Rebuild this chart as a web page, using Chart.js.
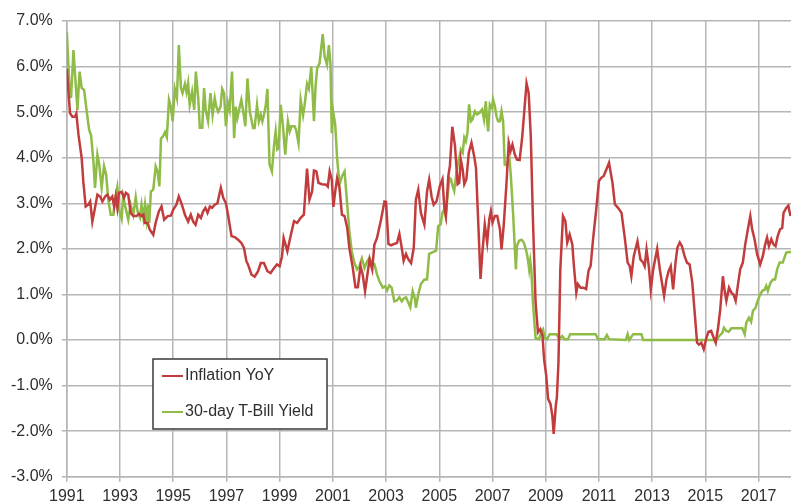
<!DOCTYPE html>
<html>
<head>
<meta charset="utf-8">
<script src="https://cdn.jsdelivr.net/npm/chart.js@4.4.1/dist/chart.umd.min.js"></script>
<style>
  html, body { margin: 0; padding: 0; background: #fff; overflow: hidden; }
  #mycanvas { display: block; }
</style>
</head>
<body>
<canvas id="mycanvas" width="791" height="512"></canvas>
<script>
// Inflation YoY (%)
const inflationYears = [
  1991.00, 1991.12, 1991.21, 1991.31, 1991.36, 1991.44, 1991.56, 1991.62, 1991.71, 1991.81, 1991.88, 1991.96,
  1992.06, 1992.15, 1992.25, 1992.34, 1992.44, 1992.52, 1992.62, 1992.71, 1992.78, 1992.84, 1992.90, 1992.96,
  1993.06, 1993.15, 1993.22, 1993.31, 1993.40, 1993.50, 1993.62, 1993.71, 1993.81, 1993.88, 1993.94,
  1994.04, 1994.12, 1994.25, 1994.35, 1994.46, 1994.56, 1994.66, 1994.79, 1994.91,
  1995.00, 1995.12, 1995.21, 1995.31, 1995.44, 1995.56, 1995.66, 1995.75, 1995.84, 1995.94,
  1996.04, 1996.12, 1996.21, 1996.29, 1996.38, 1996.46, 1996.56, 1996.66, 1996.79, 1996.88, 1996.98,
  1997.06, 1997.19, 1997.31, 1997.44, 1997.56, 1997.66, 1997.75, 1997.81, 1997.94,
  1998.06, 1998.19, 1998.29, 1998.41, 1998.54, 1998.66, 1998.79, 1998.90,
  1999.00, 1999.09, 1999.15, 1999.29, 1999.41, 1999.54, 1999.66, 1999.79, 1999.91,
  2000.03, 2000.12, 2000.22, 2000.29, 2000.38, 2000.46, 2000.59, 2000.75, 2000.81, 2000.88, 2000.96,
  2001.02, 2001.09, 2001.16, 2001.25, 2001.34, 2001.44, 2001.54, 2001.62, 2001.75, 2001.85, 2001.94,
  2002.04, 2002.12, 2002.21, 2002.29, 2002.38, 2002.48, 2002.56, 2002.66, 2002.81, 2002.94,
  2003.00, 2003.09, 2003.19, 2003.31, 2003.41, 2003.50, 2003.59, 2003.66, 2003.75, 2003.84, 2003.94,
  2004.04, 2004.12, 2004.21, 2004.31, 2004.44, 2004.54, 2004.62, 2004.71, 2004.79, 2004.90,
  2005.02, 2005.12, 2005.19, 2005.25, 2005.34, 2005.40, 2005.49, 2005.59, 2005.69, 2005.75, 2005.81, 2005.88, 2005.94,
  2006.02, 2006.11, 2006.21, 2006.31, 2006.38, 2006.46, 2006.55, 2006.62, 2006.71, 2006.80, 2006.88, 2006.94,
  2007.00, 2007.09, 2007.18, 2007.28, 2007.34, 2007.42, 2007.52, 2007.61, 2007.68, 2007.75, 2007.84, 2007.92,
  2008.02, 2008.12, 2008.21, 2008.28, 2008.36, 2008.44, 2008.52, 2008.62, 2008.71, 2008.80, 2008.88, 2008.94,
  2009.02, 2009.09, 2009.18, 2009.25, 2009.30, 2009.38, 2009.42, 2009.48, 2009.55, 2009.65, 2009.74, 2009.81, 2009.90,
  2010.00, 2010.06, 2010.15, 2010.21, 2010.31, 2010.42, 2010.52, 2010.61, 2010.69, 2010.78, 2010.90,
  2011.00, 2011.09, 2011.18, 2011.28, 2011.38, 2011.51, 2011.60, 2011.72, 2011.85, 2011.98,
  2012.08, 2012.16, 2012.22, 2012.31, 2012.45, 2012.56, 2012.66, 2012.72, 2012.79, 2012.88, 2012.95,
  2013.04, 2013.19, 2013.29, 2013.38, 2013.45, 2013.54, 2013.62, 2013.70, 2013.79, 2013.88, 2013.95,
  2014.04, 2014.12, 2014.22, 2014.31, 2014.41, 2014.51, 2014.60, 2014.69, 2014.76, 2014.85, 2014.94,
  2015.04, 2015.12, 2015.22, 2015.29, 2015.39, 2015.48, 2015.56, 2015.66, 2015.72, 2015.79, 2015.89, 2015.98,
  2016.06, 2016.14, 2016.22, 2016.31, 2016.41, 2016.50, 2016.60, 2016.69, 2016.76, 2016.85, 2016.95,
  2017.06, 2017.16, 2017.25, 2017.32, 2017.39, 2017.48, 2017.56, 2017.64, 2017.72, 2017.81, 2017.89, 2017.94,
  2018.04, 2018.12, 2018.20
];
const inflationValues = [
  5.95, 4.98, 4.90, 4.90, 4.97, 4.50, 3.99, 3.48, 2.93, 2.97, 3.04, 2.60,
  2.90, 3.19, 3.15, 3.04, 3.15, 3.19, 3.08, 3.15, 2.93, 3.15, 2.90, 3.23,
  3.25, 3.12, 3.23, 3.19, 2.79, 2.72, 2.72, 2.77, 2.72, 2.75, 2.57,
  2.57, 2.42, 2.31, 2.60, 2.82, 2.93, 2.64, 2.72, 2.73,
  2.86, 2.97, 3.15, 3.00, 2.75, 2.60, 2.75, 2.60, 2.53, 2.75,
  2.68, 2.82, 2.90, 2.79, 2.93, 2.90, 2.97, 3.00, 3.34, 3.12, 3.00,
  2.75, 2.28, 2.26, 2.20, 2.13, 2.02, 1.73, 1.66, 1.44,
  1.39, 1.51, 1.69, 1.69, 1.51, 1.47, 1.58, 1.66,
  1.62, 1.84, 2.24, 1.95, 2.28, 2.61, 2.57, 2.68, 2.75,
  3.76, 3.08, 3.26, 3.72, 3.70, 3.45, 3.42, 3.41, 3.37, 3.70, 3.52,
  2.92, 3.26, 3.55, 3.34, 2.75, 2.72, 2.46, 2.02, 1.58, 1.16, 1.16,
  1.62, 1.44, 1.07, 1.40, 1.77, 1.55, 2.09, 2.24, 2.64, 3.04,
  3.03, 2.11, 2.08, 2.11, 2.13, 2.33, 2.02, 1.74, 1.89, 1.77, 1.69,
  2.02, 3.08, 3.30, 2.79, 2.53, 3.26, 3.52, 3.15, 2.97, 3.05,
  3.38, 3.53, 2.91, 2.72, 3.60, 3.82, 4.68, 4.26, 3.42, 3.45, 3.96, 3.74, 3.42,
  3.53, 4.11, 4.33, 4.04, 3.78, 2.65, 1.34, 1.92, 2.54, 2.14, 2.65, 2.83,
  2.58, 2.72, 2.72, 2.43, 1.99, 2.50, 3.38, 4.33, 4.15, 4.29, 4.07, 3.96,
  3.95, 4.47, 5.13, 5.63, 5.42, 4.47, 2.65, 0.82, 0.17, 0.24, 0.09, -0.42,
  -0.78, -1.29, -1.40, -1.66, -2.06, -1.44, -1.26, -0.49, 1.55, 2.72, 2.61, 2.14, 2.32,
  2.10, 1.63, 1.04, 1.23, 1.15, 1.15, 1.12, 1.52, 1.63, 2.21, 2.87,
  3.49, 3.56, 3.60, 3.74, 3.89, 3.45, 2.98, 2.90, 2.79, 2.21,
  1.70, 1.62, 1.40, 1.84, 2.17, 1.77, 1.70, 1.62, 1.99, 1.59, 1.11,
  1.55, 2.00, 1.55, 1.22, 0.97, 1.33, 1.51, 1.62, 1.11, 1.70, 2.03,
  2.14, 2.06, 1.84, 1.70, 1.66, 1.26, 0.60, -0.06, -0.10, -0.06, -0.20,
  0.05, 0.18, 0.20, 0.09, -0.06, 0.27, 0.67, 1.40, 1.11, 0.86, 1.15, 1.04,
  1.00, 0.86, 1.19, 1.55, 1.70, 2.10, 2.43, 2.72, 2.43, 2.21, 1.88,
  1.66, 1.84, 2.10, 2.25, 2.06, 2.21, 2.10, 2.06, 2.28, 2.43, 2.46, 2.79,
  2.90, 2.95, 2.72
];

// 30-day T-Bill yield (%)
const billYears = [
  1991.00, 1991.09, 1991.16, 1991.25, 1991.34, 1991.40, 1991.48, 1991.56, 1991.65, 1991.75, 1991.84, 1991.91,
  1992.00, 1992.06, 1992.15, 1992.22, 1992.31, 1992.40, 1992.48, 1992.56, 1992.65, 1992.75, 1992.81, 1992.90, 1992.98,
  1993.06, 1993.12, 1993.21, 1993.31, 1993.40, 1993.50, 1993.59, 1993.66, 1993.75, 1993.81, 1993.88, 1993.94,
  1994.00, 1994.06, 1994.10, 1994.16, 1994.25, 1994.34, 1994.41, 1994.48, 1994.54, 1994.62, 1994.69, 1994.76, 1994.84, 1994.91, 1994.98,
  1995.06, 1995.14, 1995.21, 1995.29, 1995.35, 1995.44, 1995.50, 1995.56, 1995.62, 1995.71, 1995.79, 1995.85, 1995.94,
  1996.00, 1996.09, 1996.16, 1996.22, 1996.31, 1996.40, 1996.48, 1996.56, 1996.62, 1996.69, 1996.78, 1996.84, 1996.91, 1996.98,
  1997.06, 1997.12, 1997.21, 1997.29, 1997.35, 1997.41, 1997.50, 1997.56, 1997.65, 1997.71, 1997.79, 1997.88,
  1998.00, 1998.06, 1998.15, 1998.22, 1998.29, 1998.35, 1998.41, 1998.48, 1998.54, 1998.62, 1998.71, 1998.79, 1998.85, 1998.91, 1998.96,
  1999.04, 1999.12, 1999.21, 1999.31, 1999.38, 1999.44, 1999.56, 1999.62, 1999.71, 1999.79, 1999.88, 1999.94,
  2000.03, 2000.10, 2000.19, 2000.29, 2000.35, 2000.41, 2000.50, 2000.62, 2000.69, 2000.78, 2000.85, 2000.91, 2000.96,
  2001.00, 2001.09, 2001.16, 2001.25, 2001.34, 2001.44, 2001.54, 2001.62, 2001.71, 2001.81, 2001.91,
  2002.00, 2002.09, 2002.19, 2002.29, 2002.38, 2002.48, 2002.56, 2002.66, 2002.75, 2002.88, 2002.96,
  2003.04, 2003.12, 2003.21, 2003.31, 2003.41, 2003.50, 2003.59, 2003.66, 2003.75, 2003.84, 2003.91,
  2004.00, 2004.09, 2004.12, 2004.21, 2004.31, 2004.44, 2004.54, 2004.62, 2004.88, 2004.96,
  2005.05, 2005.12, 2005.19, 2005.24, 2005.30, 2005.38, 2005.44, 2005.50, 2005.56, 2005.62, 2005.69, 2005.75, 2005.81, 2005.88, 2005.94,
  2006.00, 2006.06, 2006.12, 2006.19, 2006.25, 2006.34, 2006.42, 2006.52, 2006.61, 2006.68, 2006.75, 2006.80, 2006.84, 2006.90, 2006.98,
  2007.02, 2007.09, 2007.15, 2007.21, 2007.28, 2007.34, 2007.40, 2007.46, 2007.55, 2007.62, 2007.69, 2007.78, 2007.88, 2007.92,
  2008.00, 2008.09, 2008.18, 2008.28, 2008.34, 2008.38, 2008.42, 2008.46, 2008.52, 2008.62, 2008.75, 2008.84, 2008.90, 2008.96,
  2009.05, 2009.15, 2009.40, 2009.52, 2009.62, 2009.71, 2009.84, 2009.92,
  2010.88, 2010.96, 2011.21, 2011.30, 2011.38,
  2012.01, 2012.08, 2012.14, 2012.29, 2012.60, 2012.66,
  2015.41, 2015.54, 2015.64, 2015.70, 2015.79, 2015.88, 2015.98,
  2016.39, 2016.48, 2016.54, 2016.64, 2016.72, 2016.79, 2016.89, 2016.95,
  2017.04, 2017.14, 2017.22, 2017.29, 2017.35, 2017.45, 2017.54, 2017.62, 2017.70, 2017.79, 2017.91,
  2018.04, 2018.16, 2018.22
];
const billValues = [
  6.77, 5.67, 5.31, 6.36, 5.56, 5.05, 5.89, 5.53, 5.49, 5.01, 4.61, 4.50,
  3.92, 3.34, 4.07, 3.85, 3.34, 3.82, 3.63, 3.08, 2.75, 2.75, 3.08, 3.36, 2.82,
  2.66, 3.15, 2.90, 2.64, 2.97, 2.75, 3.13, 2.82, 2.69, 2.97, 2.68, 2.97,
  2.64, 2.97, 2.57, 3.26, 3.30, 3.81, 3.70, 3.37, 4.42, 4.47, 4.56, 4.45, 5.27, 5.12, 4.80,
  5.51, 5.31, 6.47, 5.53, 5.42, 5.62, 5.44, 5.64, 5.16, 5.45, 5.05, 5.89, 5.31,
  4.66, 4.66, 5.53, 5.05, 4.80, 5.42, 4.94, 5.31, 5.12, 5.01, 5.12, 5.51, 5.42, 4.69,
  5.20, 5.05, 5.89, 4.43, 5.12, 4.87, 5.12, 5.27, 4.94, 4.69, 5.74, 5.01,
  4.65, 4.65, 5.16, 4.80, 4.94, 4.80, 4.94, 5.16, 5.51, 3.85, 3.70, 4.28, 4.58, 4.18, 4.21,
  5.16, 4.72, 4.07, 4.80, 4.58, 4.69, 4.69, 4.61, 4.32, 5.27, 4.93, 5.16,
  5.62, 5.51, 6.00, 4.80, 5.56, 5.96, 6.07, 6.71, 6.22, 6.04, 6.47, 6.07, 4.54,
  5.05, 4.72, 3.99, 3.41, 3.59, 3.70, 2.97, 2.39, 1.95, 1.69, 1.55,
  1.62, 1.79, 1.58, 1.73, 1.80, 1.67, 1.67, 1.44, 1.29, 1.15, 1.18,
  1.09, 1.20, 1.15, 0.85, 0.87, 0.94, 0.85, 0.91, 0.94, 0.82, 0.72,
  1.07, 0.89, 0.71, 1.00, 1.23, 1.33, 1.33, 1.89, 1.96, 2.50,
  2.54, 2.80, 2.87, 2.72, 3.09, 3.56, 3.53, 3.38, 3.27, 3.56, 3.85, 4.00, 4.18, 4.11, 4.44,
  4.36, 4.55, 5.17, 4.80, 4.84, 5.02, 4.95, 4.99, 5.06, 4.84, 5.24, 4.77, 4.58, 5.17, 5.09,
  5.28, 5.13, 4.91, 4.80, 4.80, 5.02, 4.80, 3.85, 3.83, 4.11, 3.60, 2.72, 1.55, 2.07,
  2.18, 2.20, 2.14, 1.93, 1.74, 1.55, 1.74, 1.55, 0.82, 0.04, 0.02, 0.17, 0.23, 0.04,
  0.02, 0.13, 0.13, 0.02, 0.09, 0.02, 0.02, 0.13,
  0.13, 0.02, 0.02, 0.11, 0.02,
  0.00, 0.13, 0.00, 0.13, 0.13, 0.00,
  0.00, 0.10, 0.16, 0.27, 0.20, 0.18, 0.26,
  0.26, 0.13, 0.38, 0.49, 0.40, 0.64, 0.71, 0.83,
  0.97, 1.08, 1.10, 1.19, 1.08, 1.26, 1.33, 1.33, 1.55, 1.70, 1.70,
  1.92, 1.93, 1.93
];

const xTickYears = [1991, 1993, 1995, 1997, 1999, 2001, 2003, 2005, 2007, 2009, 2011, 2013, 2015, 2017];
const yMin = -3;
const yMax = 7;

const toPoints = (xs, ys) => xs.map((x, i) => ({ x: x, y: ys[i] }));

const gridColor = "#b5b5b5";
const textColor = "#2e2e2e";

Chart.defaults.font.family = "'Liberation Sans', Arial, sans-serif";
Chart.defaults.font.size = 16;
Chart.defaults.color = textColor;

// legend box sitting inside the plot, like the original
const boxLegend = {
  id: "boxLegend",
  afterDraw(chart) {
    const ctx = chart.ctx;
    const left = 153, top = 359, w = 174, h = 70;
    ctx.save();
    ctx.fillStyle = "#fff";
    ctx.fillRect(left, top, w, h);
    ctx.strokeStyle = "#3a3a3a";
    ctx.lineWidth = 1.5;
    ctx.strokeRect(left, top, w, h);
    ctx.font = "16px 'Liberation Sans', Arial, sans-serif";
    ctx.textBaseline = "middle";
    ctx.fillStyle = textColor;
    chart.data.datasets.forEach((ds, i) => {
      const y = top + 17 + i * 36;
      ctx.strokeStyle = ds.borderColor;
      ctx.lineWidth = 2;
      ctx.beginPath();
      ctx.moveTo(left + 9, y);
      ctx.lineTo(left + 30, y);
      ctx.stroke();
      ctx.fillText(ds.label, left + 32, y);
    });
    ctx.restore();
  },
};

const data = {
  datasets: [
    {
      label: "Inflation YoY",
      data: toPoints(inflationYears, inflationValues),
      borderColor: "#c23c3d",
      borderWidth: 2.5,
      pointRadius: 0,
      tension: 0,
    },
    {
      label: "30-day T-Bill Yield",
      data: toPoints(billYears, billValues),
      borderColor: "#8fbb47",
      borderWidth: 2.5,
      pointRadius: 0,
      tension: 0,
    },
  ],
};

const config = {
  type: "line",
  data: data,
  options: {
    responsive: false,
    animation: false,
    devicePixelRatio: 1,
    layout: { padding: { top: 21, left: 2, right: 0, bottom: 0 } },
    plugins: {
      legend: { display: false },
      tooltip: { enabled: false },
    },
    scales: {
      x: {
        type: "linear",
        min: 1991,
        max: 2018.22,
        afterBuildTicks: (scale) => {
          scale.ticks = xTickYears.map((v) => ({ value: v }));
        },
        grid: { color: gridColor, lineWidth: 1.5, tickLength: 5 },
        border: { color: gridColor, width: 1.5 },
        ticks: {
          padding: 5.5,
          maxRotation: 0,
          autoSkip: false,
          callback: (value) => String(value),
        },
      },
      y: {
        min: yMin,
        max: yMax,
        grid: { color: gridColor, lineWidth: 1.5, tickLength: 5 },
        border: { color: gridColor, width: 1.5 },
        ticks: {
          stepSize: 1,
          padding: 9,
          callback: (value) => value.toFixed(1) + "%",
        },
      },
    },
  },
  plugins: [boxLegend],
};

const myChart = new Chart(document.querySelector("#mycanvas").getContext("2d"), config);
</script>
</body>
</html>
